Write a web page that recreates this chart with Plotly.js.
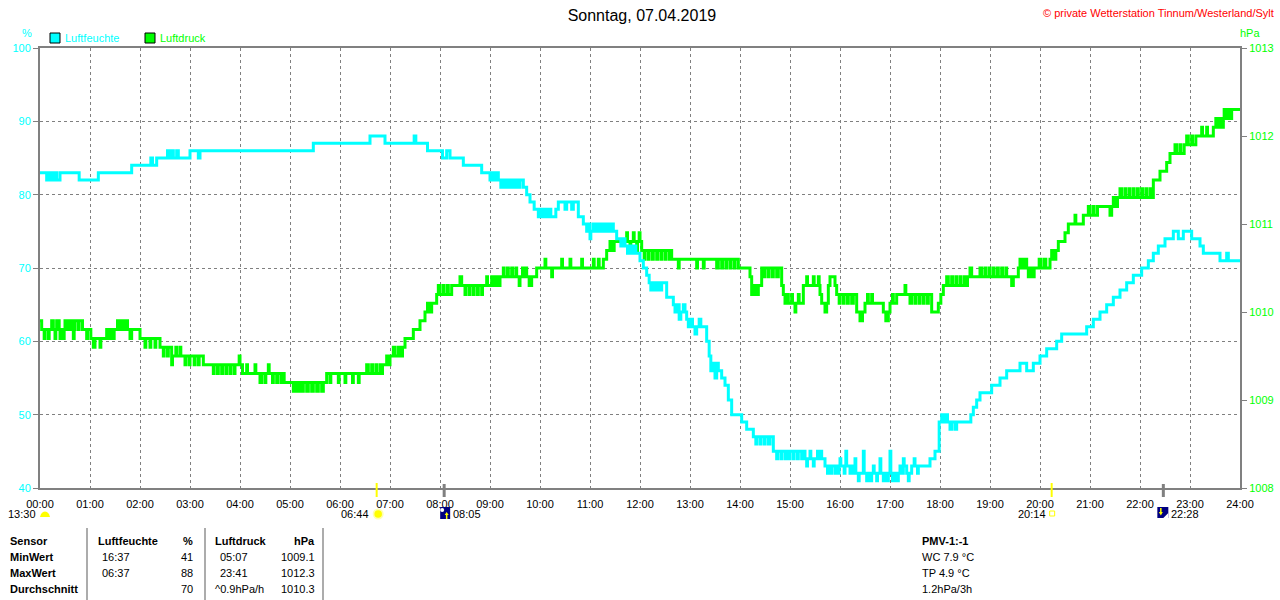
<!DOCTYPE html>
<html>
<head>
<meta charset="utf-8">
<script src="https://cdn.plot.ly/plotly-3.0.1.min.js"></script>
<style>html,body{margin:0;padding:0;background:#fff;}#chart{width:1280px;height:600px;}</style>
</head>
<body>
<div id="chart"></div>
<script>
// ---------- DATA ----------
const chartTitle = 'Sonntag, 07.04.2019';
const hourLabels = ['00:00','01:00','02:00','03:00','04:00','05:00','06:00','07:00','08:00','09:00','10:00','11:00','12:00',
  '13:00','14:00','15:00','16:00','17:00','18:00','19:00','20:00','21:00','22:00','23:00','24:00'];
const humTicks = [40,50,60,70,80,90,100];
const presTicks = [1008,1009,1010,1011,1012,1013];

// Luftfeuchte (%) readings: [minute of day, value]
const humidity = [
[0,83],[8,82],[11,83],[14,82],[17,83],[20,82],[24,83],[47,82],[70,83],[110,84],
[133,85],[135,84],[140,85],[153,86],[155,85],[158,86],[160,85],[164,86],[166,85],[180,86],
[190,85],[192,86],[328,87],[396,88],[414,87],[449,88],[451,87],[465,86],[483,85],[488,86],
[492,85],[508,84],[530,83],[540,82],[542,83],[545,82],[547,83],[550,82],[553,81],[555,82],
[558,81],[560,82],[563,81],[565,82],[568,81],[571,82],[574,81],[576,82],[580,81],[584,80],
[588,79],[593,78],[598,77],[600,78],[603,77],[606,78],[608,77],[611,78],[613,77],[619,78],
[622,79],[630,78],[632,79],[638,78],[640,79],[646,77],[652,76],[656,75],[658,76],[660,74],
[661,75],[664,76],[667,75],[669,76],[672,75],[675,76],[677,75],[680,76],[683,75],[685,76],
[688,75],[692,74],[697,73],[699,74],[702,73],[705,72],[707,73],[710,72],[712,73],[715,72],
[720,71],[724,70],[728,69],[731,68],[733,67],[735,68],[738,67],[741,68],[744,67],[746,68],
[752,66],[760,65],[762,64],[764,65],[767,63],[769,64],[772,65],[774,64],[776,63],[778,62],
[781,63],[783,62],[786,61],[788,62],[791,63],[793,62],[800,60],[803,58],[805,56],[807,57],
[810,55],[812,57],[814,56],[818,55],[822,54],[826,52],[830,50],[842,49],[848,48],[856,47],
[859,46],[860,47],[864,46],[865,47],[869,46],[870,47],[874,46],[876,47],[880,45],
[884,44],[885,45],[889,44],[890,45],[894,44],[895,45],[898,44],[900,45],[904,44],[905,45],
[909,44],[910,45],[914,44],[915,45],[918,44],[920,43],[921,44],[924,45],[925,44],[928,43],
[929,44],[933,45],[934,44],[937,45],[938,44],[942,43],[945,42],[946,43],[949,42],[950,43],
[954,42],[955,43],[958,42],[959,43],[960,44],[961,43],[965,42],[966,43],[967,45],[968,43],
[972,42],[973,43],[976,42],[978,44],[979,42],[982,41],[983,42],[988,45],[989,42],[992,41],
[993,42],[996,41],[998,42],[1000,43],[1001,42],[1004,41],[1005,42],[1008,44],[1009,42],[1012,41],
[1014,42],[1016,41],[1018,42],[1020,45],[1021,42],[1023,41],[1025,42],[1028,41],[1030,42],[1032,43],
[1034,42],[1036,44],[1037,43],[1040,42],[1042,41],[1043,42],[1046,43],[1049,44],[1050,43],[1053,42],
[1054,43],[1068,44],[1074,45],[1079,49],
[1082,50],[1084,49],[1087,50],[1089,49],[1092,48],[1094,49],[1098,48],[1100,49],[1117,50],[1120,51],
[1124,52],[1128,53],[1142,54],[1152,55],[1160,56],[1176,57],[1184,56],[1192,57],[1200,58],[1208,59],
[1220,60],[1226,61],[1256,62],[1264,63],[1272,64],[1280,65],[1288,66],[1296,67],[1304,68],[1312,69],
[1322,70],[1330,71],[1336,72],[1342,73],[1350,74],[1360,75],[1366,74],[1372,75],[1382,74],[1392,73],
[1396,72],[1416,71],[1424,72],[1426,71],[1440,71]
];

// Luftdruck (hPa) readings: [minute of day, value]
const pressure = [
[0,1009.9],[2,1009.8],[5,1009.7],[6,1009.8],[10,1009.7],[11,1009.8],[14,1009.9],[16,1009.8],[18,1009.7],[19,1009.8],
[20,1009.9],[23,1009.8],[24,1009.7],[25,1009.8],[28,1009.7],[29,1009.8],[30,1009.9],[33,1009.8],[36,1009.9],[39,1009.8],
[40,1009.7],[41,1009.8],[42,1009.9],[46,1009.8],[47,1009.9],[51,1009.8],[56,1009.7],[57,1009.8],[61,1009.7],[64,1009.6],
[66,1009.7],[72,1009.6],[73,1009.7],[80,1009.8],[82,1009.7],[85,1009.8],[88,1009.7],[89,1009.8],[93,1009.9],[95,1009.8],
[98,1009.9],[100,1009.8],[103,1009.9],[105,1009.8],[108,1009.7],[110,1009.8],[120,1009.7],[126,1009.6],[127,1009.7],[132,1009.6],
[133,1009.7],[138,1009.6],[139,1009.7],[144,1009.6],[148,1009.5],[149,1009.6],[153,1009.5],[154,1009.6],[158,1009.4],[159,1009.5],
[163,1009.6],[164,1009.5],[168,1009.6],[169,1009.5],[174,1009.4],[175,1009.5],[179,1009.4],[180,1009.5],[185,1009.4],[186,1009.5],
[190,1009.4],[191,1009.5],[196,1009.4],[208,1009.3],[209,1009.4],[213,1009.3],[214,1009.4],[218,1009.3],[219,1009.4],[223,1009.3],
[224,1009.4],[228,1009.3],[229,1009.4],[233,1009.3],[234,1009.4],[239,1009.5],[240,1009.4],[243,1009.3],[248,1009.4],[249,1009.3],
[258,1009.4],[259,1009.3],[264,1009.2],[266,1009.3],[270,1009.2],[271,1009.3],[274,1009.4],[275,1009.3],[279,1009.2],[280,1009.3],
[284,1009.2],[285,1009.3],[289,1009.2],[290,1009.3],[293,1009.2],[304,1009.1],[306,1009.2],[309,1009.1],[311,1009.2],[314,1009.1],
[316,1009.2],[320,1009.1],[322,1009.2],[326,1009.1],[328,1009.2],[332,1009.1],[334,1009.2],[338,1009.1],[340,1009.2],[344,1009.3],
[348,1009.2],[349,1009.3],[358,1009.2],[359,1009.3],[366,1009.2],[367,1009.3],[375,1009.2],[376,1009.3],[382,1009.2],[383,1009.3],
[392,1009.4],[394,1009.3],[398,1009.4],[399,1009.3],[403,1009.4],[404,1009.3],[408,1009.4],[409,1009.3],[411,1009.4],[416,1009.5],
[417,1009.4],[420,1009.5],[424,1009.6],[426,1009.5],[430,1009.6],[432,1009.5],[435,1009.6],[438,1009.7],[448,1009.8],[456,1009.9],
[462,1010.0],[465,1010.1],[467,1010.0],[470,1010.1],[476,1010.2],[478,1010.3],[480,1010.2],[484,1010.3],[485,1010.2],[489,1010.3],
[490,1010.2],[494,1010.3],[504,1010.4],[506,1010.3],[510,1010.2],[511,1010.3],[515,1010.2],[516,1010.3],[520,1010.2],[521,1010.3],
[525,1010.2],[526,1010.3],[530,1010.2],[531,1010.3],[536,1010.4],[537,1010.3],[542,1010.4],[544,1010.3],[547,1010.4],[549,1010.3],
[552,1010.4],[556,1010.5],[557,1010.4],[561,1010.5],[562,1010.4],[566,1010.5],[567,1010.4],[571,1010.5],[572,1010.4],[575,1010.3],
[576,1010.4],[579,1010.5],[580,1010.4],[583,1010.5],[584,1010.4],[587,1010.3],[590,1010.4],[596,1010.5],[606,1010.6],[607,1010.5],
[614,1010.4],[615,1010.5],[626,1010.6],[627,1010.5],[636,1010.6],[637,1010.5],[650,1010.6],[651,1010.5],[664,1010.6],[665,1010.5],
[670,1010.6],[671,1010.5],[676,1010.6],[680,1010.7],[684,1010.8],[686,1010.7],[689,1010.8],[704,1010.9],[705,1010.8],[708,1010.7],
[709,1010.8],[712,1010.9],[713,1010.8],[716,1010.7],[717,1010.8],[719,1010.9],[720,1010.8],[722,1010.7],[725,1010.6],[726,1010.7],
[730,1010.6],[731,1010.7],[735,1010.6],[736,1010.7],[740,1010.6],[741,1010.7],[745,1010.6],[746,1010.7],[750,1010.6],[751,1010.7],
[755,1010.6],[756,1010.7],[758,1010.6],[766,1010.5],[767,1010.6],[788,1010.5],[789,1010.6],[796,1010.5],[797,1010.6],[812,1010.5],
[814,1010.6],[818,1010.5],[819,1010.6],[823,1010.5],[824,1010.6],[828,1010.5],[829,1010.6],[833,1010.5],[834,1010.6],[838,1010.5],
[852,1010.4],[854,1010.2],[857,1010.3],[859,1010.2],[862,1010.3],[866,1010.5],[869,1010.4],[870,1010.5],[874,1010.4],[875,1010.5],
[879,1010.4],[880,1010.5],[884,1010.4],[886,1010.5],[890,1010.3],[892,1010.2],[894,1010.1],[897,1010.2],[898,1010.1],[902,1010.2],
[903,1010.1],[906,1010.0],[907,1010.1],[910,1010.2],[911,1010.1],[916,1010.3],[920,1010.4],[921,1010.3],[928,1010.4],[929,1010.3],
[934,1010.4],[935,1010.3],[936,1010.2],[938,1010.1],[942,1010.0],[944,1010.1],[946,1010.3],[948,1010.4],[954,1010.3],[956,1010.2],
[959,1010.1],[960,1010.2],[964,1010.1],[965,1010.2],[969,1010.1],[970,1010.2],[974,1010.1],[976,1010.2],[980,1010.0],[984,1009.9],
[987,1010.0],[990,1010.1],[993,1010.2],[994,1010.1],[998,1010.2],[999,1010.1],[1012,1010.0],[1015,1009.9],[1018,1010.0],[1020,1010.1],
[1023,1010.2],[1024,1010.1],[1028,1010.2],[1038,1010.3],[1039,1010.2],[1044,1010.1],[1046,1010.2],[1050,1010.1],[1051,1010.2],[1055,1010.1],
[1056,1010.2],[1060,1010.1],[1061,1010.2],[1065,1010.1],[1066,1010.2],[1070,1010.0],[1078,1010.1],[1081,1010.2],[1084,1010.3],[1088,1010.4],
[1090,1010.3],[1094,1010.4],[1095,1010.3],[1099,1010.4],[1100,1010.3],[1104,1010.4],[1105,1010.3],[1109,1010.4],[1110,1010.3],[1113,1010.4],
[1116,1010.5],[1118,1010.4],[1128,1010.5],[1130,1010.4],[1134,1010.5],[1135,1010.4],[1139,1010.5],[1140,1010.4],[1144,1010.5],[1145,1010.4],
[1149,1010.5],[1150,1010.4],[1154,1010.5],[1155,1010.4],[1159,1010.5],[1160,1010.4],[1166,1010.3],[1168,1010.4],[1174,1010.5],[1176,1010.6],
[1179,1010.5],[1182,1010.6],[1184,1010.5],[1186,1010.4],[1188,1010.5],[1190,1010.4],[1193,1010.5],[1199,1010.6],[1201,1010.5],[1205,1010.6],
[1207,1010.5],[1212,1010.6],[1214,1010.7],[1216,1010.6],[1219,1010.7],[1222,1010.8],[1230,1010.9],[1234,1011.0],[1242,1011.1],[1243,1011.0],
[1252,1011.1],[1258,1011.2],[1260,1011.1],[1264,1011.2],[1265,1011.1],[1269,1011.2],[1284,1011.1],[1286,1011.2],[1288,1011.3],[1290,1011.2],
[1293,1011.3],[1296,1011.4],[1298,1011.3],[1302,1011.4],[1303,1011.3],[1307,1011.4],[1308,1011.3],[1312,1011.4],[1313,1011.3],[1317,1011.4],
[1318,1011.3],[1322,1011.4],[1323,1011.3],[1327,1011.4],[1328,1011.3],[1332,1011.4],[1333,1011.3],[1336,1011.5],[1344,1011.6],[1352,1011.7],
[1356,1011.8],[1362,1011.9],[1364,1011.8],[1368,1011.9],[1369,1011.8],[1373,1011.9],[1376,1012.0],[1378,1011.9],[1382,1012.0],[1383,1011.9],
[1387,1012.0],[1394,1012.1],[1395,1012.0],[1400,1012.1],[1401,1012.0],[1408,1012.1],[1411,1012.2],[1413,1012.1],[1414,1012.2],[1417,1012.1],
[1420,1012.2],[1421,1012.3],[1423,1012.2],[1426,1012.3],[1428,1012.2],[1430,1012.3],[1440,1012.3]
];

// Sun / moon event times
const moonSetPrev = '13:30';
const sunTimes = ['06:44','20:14'];
const moonTimes = ['08:05','22:28'];

// Statistics table
const tableHeader = ['Sensor','Luftfeuchte','%','Luftdruck','hPa'];
const rowNames = ['MinWert','MaxWert','Durchschnitt'];
const humTimesCol = ['16:37','06:37',''];
const humValCol = ['41','88','70'];
const presTimesCol = ['05:07','23:41','^0.9hPa/h'];
const presValCol = ['1009.1','1012.3','1010.3'];
const extraInfo = ['PMV-1:-1','WC 7.9 °C','TP 4.9 °C','1.2hPa/3h'];

// ---------- DRAWING ----------
const L = 40, R = 1240, T = 48, B = 488;
const fx = px => (px - L) / (R - L);
const fy = py => (B - py) / (B - T);
const toMin = s => { const p = s.split(':'); return (+p[0]) * 60 + (+p[1]); };
const FONT = '"Liberation Sans", Arial, sans-serif';
const GRID = '#808080';
const CYAN = '#00ffff', GREEN = '#00ff00';

const traces = [
  { x: pressure.map(p => p[0]), y: pressure.map(p => p[1]), yaxis: 'y', type: 'scatter', mode: 'lines',
    line: { color: GREEN, width: 3, shape: 'hv' }, name: 'Luftdruck', hoverinfo: 'skip' },
  { x: humidity.map(p => p[0]), y: humidity.map(p => p[1]), yaxis: 'y2', type: 'scatter', mode: 'lines',
    line: { color: CYAN, width: 3, shape: 'hv' }, name: 'Luftfeuchte', hoverinfo: 'skip' }
];

const ann = [];
function txt(text, px, py, color, anchor, size) {
  ann.push({ text: text, x: fx(px), y: fy(py), xref: 'paper', yref: 'paper', showarrow: false,
    xanchor: anchor || 'left', yanchor: 'middle', font: { family: FONT, size: size || 11, color: color || '#000' } });
}
txt('© private Wetterstation Tinnum/Westerland/Sylt', 1276, 13, '#ff0000', 'right');
txt('%', 27, 33, CYAN, 'center');
txt('hPa', 1250, 33, GREEN, 'center');
txt('Luftfeuchte', 63, 38, CYAN, 'left');
txt('Luftdruck', 158, 38, GREEN, 'left');

// event labels
txt(moonSetPrev, 38, 514, '#000', 'right');
const sx = sunTimes.map(t => L + toMin(t) / 1440 * (R - L));
const mx = moonTimes.map(t => L + toMin(t) / 1440 * (R - L));
txt(sunTimes[0], sx[0] - 6, 514, '#000', 'right');
txt(moonTimes[0], mx[0] + 7, 514, '#000', 'left');
txt(sunTimes[1], sx[1] - 4, 514, '#000', 'right');
txt(moonTimes[1], mx[1] + 6, 514, '#000', 'left');

// table
const rowsY = [541, 557, 573, 589];
txt('<b>' + tableHeader[0] + '</b>', 8, rowsY[0]);
txt('<b>' + tableHeader[1] + '</b>', 96, rowsY[0]);
txt('<b>' + tableHeader[2] + '</b>', 195, rowsY[0], '#000', 'right');
txt('<b>' + tableHeader[3] + '</b>', 213, rowsY[0]);
txt('<b>' + tableHeader[4] + '</b>', 317, rowsY[0], '#000', 'right');
for (let i = 0; i < 3; i++) {
  const yy = rowsY[i + 1];
  txt('<b>' + rowNames[i] + '</b>', 8, yy);
  if (humTimesCol[i]) txt(humTimesCol[i], 100, yy);
  txt(humValCol[i], 195, yy, '#000', 'right');
  txt(presTimesCol[i], i === 2 ? 213 : 218, yy);
  txt(presValCol[i], 317, yy, '#000', 'right');
}
txt('<b>' + extraInfo[0] + '</b>', 920, rowsY[0]);
for (let i = 1; i < 4; i++) txt(extraInfo[i], 920, rowsY[i]);

const shapes = [];
function rect(x0, y0, x1, y1, fill, lineColor, lw) {
  shapes.push({ type: 'rect', xref: 'paper', yref: 'paper', x0: fx(x0), x1: fx(x1), y0: fy(y0), y1: fy(y1),
    fillcolor: fill, line: { color: lineColor || fill, width: lw === undefined ? 0 : lw } });
}
function line(x0, y0, x1, y1, color, w) {
  shapes.push({ type: 'line', xref: 'paper', yref: 'paper', x0: fx(x0), x1: fx(x1), y0: fy(y0), y1: fy(y1),
    line: { color: color, width: w } });
}
function circ(cx, cy, r, fill) {
  shapes.push({ type: 'circle', xref: 'paper', yref: 'paper', x0: fx(cx - r), x1: fx(cx + r), y0: fy(cy + r), y1: fy(cy - r),
    fillcolor: fill, line: { width: 0 } });
}
function path(pts, fill) {
  const d = pts.map((p, i) => (i ? 'L' : 'M') + fx(p[0]) + ',' + fy(p[1])).join(' ') + ' Z';
  shapes.push({ type: 'path', xref: 'paper', yref: 'paper', path: d, fillcolor: fill, line: { width: 0 } });
}
// legend squares
rect(50, 33, 60, 43, CYAN, '#000', 1);
rect(145, 33, 155, 43, GREEN, '#000', 1);
// table separators
[87, 205, 323].forEach(x => line(x, 528, x, 600, '#909090', 1.5));
// event markers on the axis
sx.forEach(x => line(x, 483, x, 497, '#ffff00', 2));
mx.forEach(x => line(x, 484, x, 497, '#808080', 3));
// moon (previous day) dome icon
path([[40,517],[41,514],[43,512],[45,511.5],[47,512],[49,514],[50,517]], '#ffff00');
// sunrise icon
circ(sx[0] + 1.5, 514, 5.5, '#ffffb0');
circ(sx[0] + 1.5, 514, 3.8, '#ffff00');
// moonrise icon
rect(mx[0] - 4, 507, mx[0] + 6, 519, '#000080');
circ(mx[0] - 2, 510, 2, '#ffffff');
line(mx[0] + 2.5, 519, mx[0] + 2.5, 514, '#ffff00', 1.5);
path([[mx[0] + 0.5, 515],[mx[0] + 2.5, 512],[mx[0] + 4.5, 515]], '#ffff00');
// sunset icon
rect(sx[1] - 2, 511, sx[1] + 3, 516, 'rgba(0,0,0,0)', '#ffff00', 1);
// moonset icon
rect(mx[1] - 6, 507, mx[1] + 5, 518, '#000080');
path([[mx[1] + 0, 518],[mx[1] + 5, 513],[mx[1] + 5, 518]], '#ffffff');
line(mx[1] - 2.5, 508, mx[1] - 2.5, 513, '#ffff00', 1.5);
path([[mx[1] - 4.5, 512],[mx[1] - 2.5, 515.5],[mx[1] - 0.5, 512]], '#ffff00');

const layout = {
  width: 1280, height: 600,
  margin: { l: L, r: 1280 - R, t: T, b: 600 - B, pad: 0 },
  paper_bgcolor: '#ffffff', plot_bgcolor: '#ffffff',
  showlegend: false,
  title: { text: chartTitle, x: 0.5015, xref: 'container', y: 1 - 15 / 600, yref: 'container',
    xanchor: 'center', yanchor: 'middle', font: { family: FONT, size: 16, color: '#000' } },
  xaxis: {
    range: [0, 1440], tickmode: 'array', tickvals: hourLabels.map((_, i) => i * 60), ticktext: hourLabels,
    showgrid: true, gridcolor: GRID, gridwidth: 1, griddash: '3px,3px',
    showline: true, linecolor: GRID, linewidth: 2, mirror: true, zeroline: false,
    ticks: '', ticklabelstandoff: 5, tickfont: { family: FONT, size: 11, color: '#000' }, fixedrange: true
  },
  yaxis: {
    range: [1008, 1013], tickmode: 'array', tickvals: presTicks, ticktext: presTicks.map(String),
    side: 'right', showgrid: false, zeroline: false,
    showline: true, linecolor: GRID, linewidth: 2,
    ticks: 'outside', ticklen: 5, tickcolor: GRID, tickwidth: 1,
    tickfont: { family: FONT, size: 11, color: GREEN }, fixedrange: true
  },
  yaxis2: {
    range: [40, 100], tickmode: 'array', tickvals: humTicks, ticktext: humTicks.map(String),
    side: 'left', overlaying: 'y',
    showgrid: true, gridcolor: GRID, gridwidth: 1, griddash: '3px,3px', zeroline: false,
    showline: true, linecolor: GRID, linewidth: 2,
    ticks: 'outside', ticklen: 5, tickcolor: GRID, tickwidth: 1,
    tickfont: { family: FONT, size: 11, color: CYAN }, fixedrange: true
  },
  annotations: ann,
  shapes: shapes
};

Plotly.newPlot('chart', traces, layout, { displayModeBar: false, staticPlot: true });
</script>
</body>
</html>
